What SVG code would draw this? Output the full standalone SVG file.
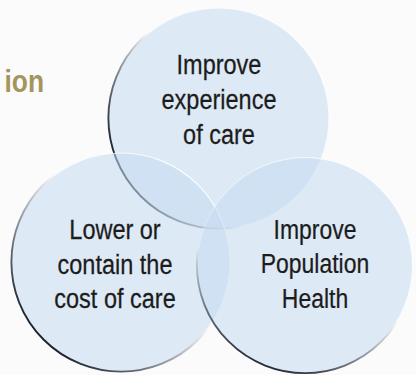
<svg xmlns="http://www.w3.org/2000/svg" width="416" height="375" viewBox="0 0 416 375">
  <style>
    .bubble { fill: #c4daf0; fill-opacity: 0.55; }
    .lbl { font-family: "Liberation Sans", Arial, sans-serif; font-size: 27px; fill: #1c1c1c; stroke: #1c1c1c; stroke-width: 0.25; text-anchor: middle; }
    .title { font-family: "Liberation Sans", Arial, sans-serif; font-size: 31px; font-weight: bold; fill: #a3955e; text-anchor: end; }
  </style>
  <defs>
    <linearGradient id="shTop" x1="0" y1="0.62" x2="0.35" y2="0.45">
      <stop offset="0" stop-color="#1a2433" stop-opacity="1"/>
      <stop offset="1" stop-color="#1a2433" stop-opacity="0"/>
    </linearGradient>
    <linearGradient id="shLeft" x1="0.15" y1="0.85" x2="0.55" y2="0.45">
      <stop offset="0" stop-color="#1a2433" stop-opacity="1"/>
      <stop offset="1" stop-color="#1a2433" stop-opacity="0"/>
    </linearGradient>
    <linearGradient id="shRight" x1="0.35" y1="1" x2="0.5" y2="0.6">
      <stop offset="0" stop-color="#1a2433" stop-opacity="1"/>
      <stop offset="1" stop-color="#1a2433" stop-opacity="0"/>
    </linearGradient>
    <linearGradient id="hl" x1="0.8" y1="0.1" x2="0.4" y2="0.6">
      <stop offset="0" stop-color="#ffffff" stop-opacity="0.9"/>
      <stop offset="1" stop-color="#ffffff" stop-opacity="0.2"/>
    </linearGradient>
  </defs>
  <rect width="416" height="375" fill="#fbfbfb"/>
  <g transform="translate(44 0) scale(0.85 1)">
    <text class="title" x="0" y="92">ion</text>
  </g>

  <g id="node-experience">
    <circle class="bubble" cx="219" cy="118" r="110"/>
    <circle cx="219" cy="118" r="110" fill="none" stroke="url(#hl)" stroke-width="1.2"/>
    <circle cx="219" cy="118" r="110.6" fill="none" stroke="url(#shTop)" stroke-width="1.9"/>
    <g transform="translate(219 0) scale(0.87 1)">
      <text class="lbl" x="0" y="74">Improve</text>
      <text class="lbl" x="0" y="109">experience</text>
      <text class="lbl" x="0" y="144">of care</text>
    </g>
  </g>

  <g id="node-cost">
    <circle class="bubble" cx="121" cy="262" r="109"/>
    <circle cx="121" cy="262" r="109" fill="none" stroke="url(#hl)" stroke-width="1.2"/>
    <circle cx="121" cy="262" r="109.6" fill="none" stroke="url(#shLeft)" stroke-width="1.9"/>
    <g transform="translate(115 0) scale(0.87 1)">
      <text class="lbl" x="0" y="239">Lower or</text>
      <text class="lbl" x="0" y="274">contain the</text>
      <text class="lbl" x="0" y="308">cost of care</text>
    </g>
  </g>

  <g id="node-population">
    <circle class="bubble" cx="305" cy="265" r="107.5"/>
    <circle cx="305" cy="265" r="107.5" fill="none" stroke="url(#hl)" stroke-width="1.2"/>
    <circle cx="305" cy="265" r="108.1" fill="none" stroke="url(#shRight)" stroke-width="1.9"/>
    <g transform="translate(315 0) scale(0.85 1)">
      <text class="lbl" x="0" y="239">Improve</text>
      <text class="lbl" x="0" y="273">Population</text>
      <text class="lbl" x="0" y="308">Health</text>
    </g>
  </g>

  <g id="connectors"/>
</svg>
